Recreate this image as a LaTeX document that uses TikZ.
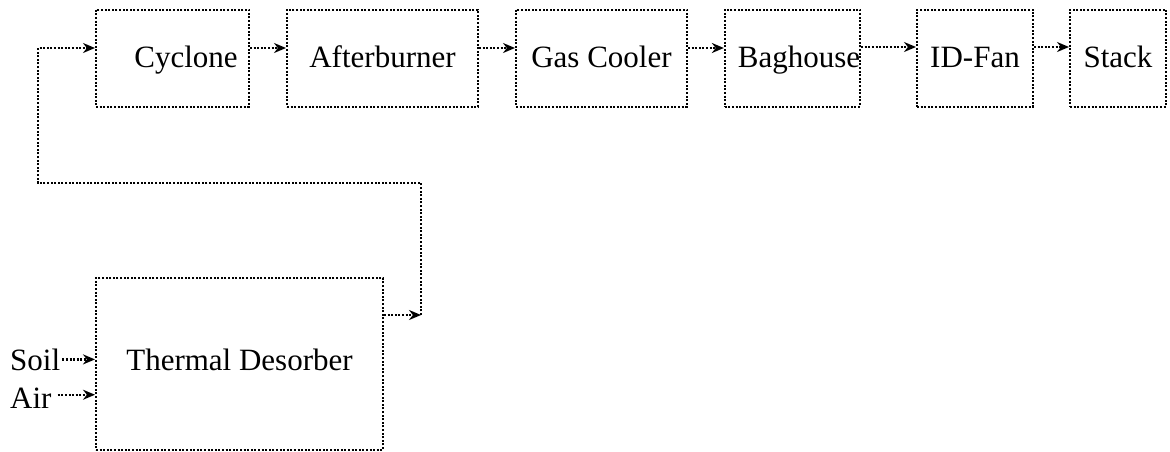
\documentclass[tikz,border=0pt]{standalone}
\usepackage{fontspec}
\setmainfont{Liberation Serif}
\usetikzlibrary{arrows.meta, positioning}

\begin{document}
\begin{tikzpicture}[
  x=1pt, y=-1pt,
  every node/.style={font=\fontsize{31}{37}\selectfont},
  unit/.style={draw, dash pattern=on 2pt off 1.6pt, line width=2pt, minimum height=97pt, inner sep=0pt, text height=23pt, text depth=5pt},
  flow/.style={-{Stealth[length=12pt,width=10pt]}, dash pattern=on 2pt off 1.6pt, line width=2.2pt},
  feed/.style={inner sep=0pt, anchor=base west}
]
  \useasboundingbox (0,0) rectangle (1170,451);

  % gas train
  \node[unit, minimum width=153pt] (cyc) at (172.5,58) {\hspace*{27pt}Cyclone};
  \node[unit, minimum width=191pt] (aft) at (382.5,58) {Afterburner};
  \node[unit, minimum width=171pt] (gas) at (601.5,58) {Gas Cooler};
  \node[unit, minimum width=135pt] (bag) at (792.5,58) {\hspace*{13pt}Baghouse};
  \node[unit, minimum width=116pt] (idf) at (975,58) {ID-Fan};
  \node[unit, minimum width=96pt] (stk) at (1118,58) {Stack};

  % desorber and feeds
  \node[unit, minimum width=287pt, minimum height=172pt, text height=21pt, text depth=9pt] (td) at (239.5,364) {Thermal Desorber};
  \node[feed] (soil) at (10,370) {Soil};
  \node[feed] (air) at (10,408) {Air};
  \coordinate (airout) at ([yshift=3pt]air.east);

  \draw[flow] ([yshift=10pt]cyc.east) -- ([yshift=10pt]aft.west);
  \draw[flow] ([yshift=10pt]aft.east) -- ([yshift=10pt]gas.west);
  \draw[flow] ([yshift=10pt]gas.east) -- ([yshift=10pt]bag.west);
  \draw[flow] ([yshift=11pt]bag.east) -- ([yshift=11pt]idf.west);
  \draw[flow] ([yshift=11pt]idf.east) -- ([yshift=11pt]stk.west);

  \draw[flow, shorten <=2pt] (soil.east) -- (td.west |- soil.east);
  \draw[flow, shorten <=6pt] (airout) -- (td.west |- airout);

  % return to cyclone
  \coordinate (tap) at (421,315);
  \coordinate (ret) at (38,183);
  \draw[flow] (td.east |- tap) -- (tap);
  \draw[flow] (tap) -- (tap |- ret) -- (ret) |- ([yshift=10pt]cyc.west);

\end{tikzpicture}
\end{document}
